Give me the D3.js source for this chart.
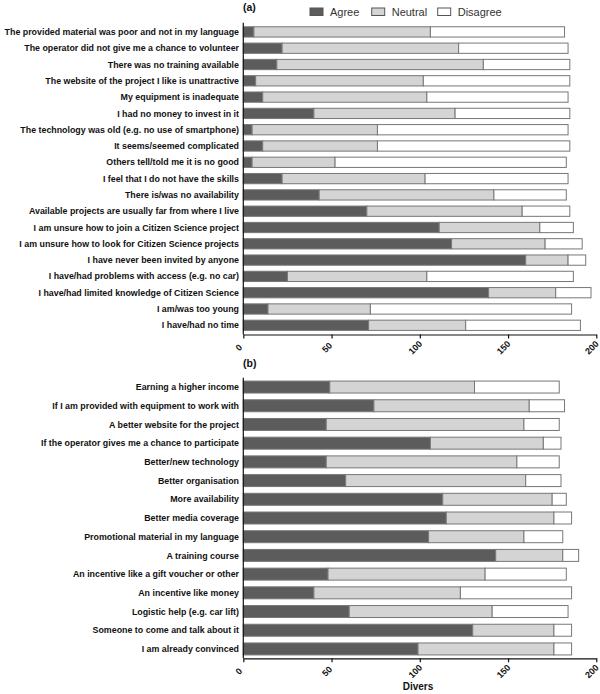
<!DOCTYPE html>
<html><head><meta charset="utf-8">
<script src="https://cdn.jsdelivr.net/npm/d3@7"></script>
<style>body{margin:0;background:#fff}svg{display:block}</style>
</head><body>
<svg id="c" width="600" height="694"></svg>
<script>
const seriesNames = ["Agree","Neutral","Disagree"];
const catsA = [
"The provided material was poor and not in my language",
"The operator did not give me a chance to volunteer",
"There was no training available",
"The website of the project I like is unattractive",
"My equipment is inadequate",
"I had no money to invest in it",
"The technology was old (e.g. no use of smartphone)",
"It seems/seemed complicated",
"Others tell/told me it is no good",
"I feel that I do not have the skills",
"There is/was no availability",
"Available projects are usually far from where I live",
"I am unsure how to join a Citizen Science project",
"I am unsure how to look for Citizen Science projects",
"I have never been invited by anyone",
"I have/had problems with access (e.g. no car)",
"I have/had limited knowledge of Citizen Science",
"I am/was too young",
"I have/had no time"];
const agreeA    = [6,22,19,7,11,40,5,11,5,22,43,70,111,118,160,25,139,14,71];
const neutralA  = [100,100,117,95,93,80,71,65,47,81,99,88,57,53,24,79,38,58,55];
const disagreeA = [76,62,49,83,80,65,108,109,131,81,41,27,19,21,10,83,20,114,65];

const catsB = [
"Earning a higher income",
"If I am provided with equipment to work with",
"A better website for the project",
"If the operator gives me a chance to participate",
"Better/new technology",
"Better organisation",
"More availability",
"Better media coverage",
"Promotional material in my language",
"A training course",
"An incentive like a gift voucher or other",
"An incentive like money",
"Logistic help (e.g. car lift)",
"Someone to come and talk about it",
"I am already convinced"];
const agreeB    = [49,74,47,106,47,58,113,115,105,143,48,40,60,130,99];
const neutralB  = [82,88,112,64,108,102,62,61,54,38,89,83,81,46,77];
const disagreeB = [48,20,20,10,24,20,8,10,22,9,46,63,43,10,10];

const xTicks = [0,50,100,150,200];
const xTitle = "Divers";

const colors = {Agree:"#5c5c5c", Neutral:"#d4d4d4", Disagree:"#ffffff"};
const svg = d3.select("#c");
const font = "'Liberation Sans', Arial, sans-serif";
const x = d3.scaleLinear().domain([0,200]).range([243.3,596.3]);

function panel(cats, ag, ne, di, top, bottom, pIn, pOut, letter, letterY, withTitle){
  const rows = cats.map((c,i)=>({cat:c, Agree:ag[i], Neutral:ne[i], Disagree:di[i]}));
  const stack = d3.stack().keys(seriesNames)(rows);
  const y = d3.scaleBand().domain(cats).range([top,bottom]).paddingInner(pIn).paddingOuter(pOut);
  const g = svg.append("g");
  stack.forEach(layer=>{
    g.append("g").selectAll("rect").data(layer).join("rect")
      .attr("x", d=>x(d[0])).attr("width", d=>x(d[1])-x(d[0]))
      .attr("y", d=>y(d.data.cat)).attr("height", y.bandwidth())
      .attr("fill", colors[layer.key]).attr("stroke","#777").attr("stroke-width",1);
  });
  g.append("g").selectAll("text").data(cats).join("text")
    .attr("x", 239).attr("y", d=>y(d)+y.bandwidth()/2).attr("dy","0.35em")
    .attr("text-anchor","end").attr("font-family",font).attr("font-weight","bold")
    .attr("font-size",8.85).attr("fill","#111").text(d=>d);
  g.append("line").attr("x1",x(0)).attr("x2",x(0)).attr("y1",top).attr("y2",bottom)
    .attr("stroke","#111").attr("stroke-width",1.2);
  const ax = g.append("g").attr("transform",`translate(0,${bottom})`)
    .call(d3.axisBottom(x).tickValues(xTicks).tickSize(4).tickSizeOuter(0));
  ax.select(".domain").attr("stroke","#111").attr("stroke-width",1.2);
  ax.selectAll(".tick line").attr("stroke","#111").attr("stroke-width",1.2);
  ax.selectAll(".tick text").attr("y",0).attr("dy","0.35em").attr("text-anchor","middle")
    .attr("transform","translate(-5,13) rotate(-45)")
    .attr("font-family",font).attr("font-weight","bold").attr("font-size",9).attr("fill","#111");
  svg.append("text").attr("x",243).attr("y",letterY).attr("font-family",font)
    .attr("font-weight","bold").attr("font-size",10.5).attr("fill","#111").text(letter);
  if(withTitle){
    svg.append("text").attr("x",418).attr("y",bottom+32).attr("text-anchor","middle")
      .attr("font-family",font).attr("font-weight","bold").attr("font-size",10).attr("fill","#111").text(xTitle);
  }
}

panel(catsA, agreeA, neutralA, disagreeA, 22.7, 334.5, 0.37, 0.25, "(a)", 11, false);
panel(catsB, agreeB, neutralB, disagreeB, 377.7, 658.3, 0.36, 0.18, "(b)", 367, true);

const legX = [310, 371.7, 437.7];
const leg = svg.append("g");
seriesNames.forEach((s,i)=>{
  leg.append("rect").attr("x",legX[i]).attr("y",8).attr("width",13).attr("height",7.5)
    .attr("fill",colors[s]).attr("stroke","#555").attr("stroke-width",1);
  leg.append("text").attr("x",legX[i]+20).attr("y",15.5).attr("font-family",font)
    .attr("font-size",11).attr("fill","#333").text(s);
});
</script>
</body></html>
